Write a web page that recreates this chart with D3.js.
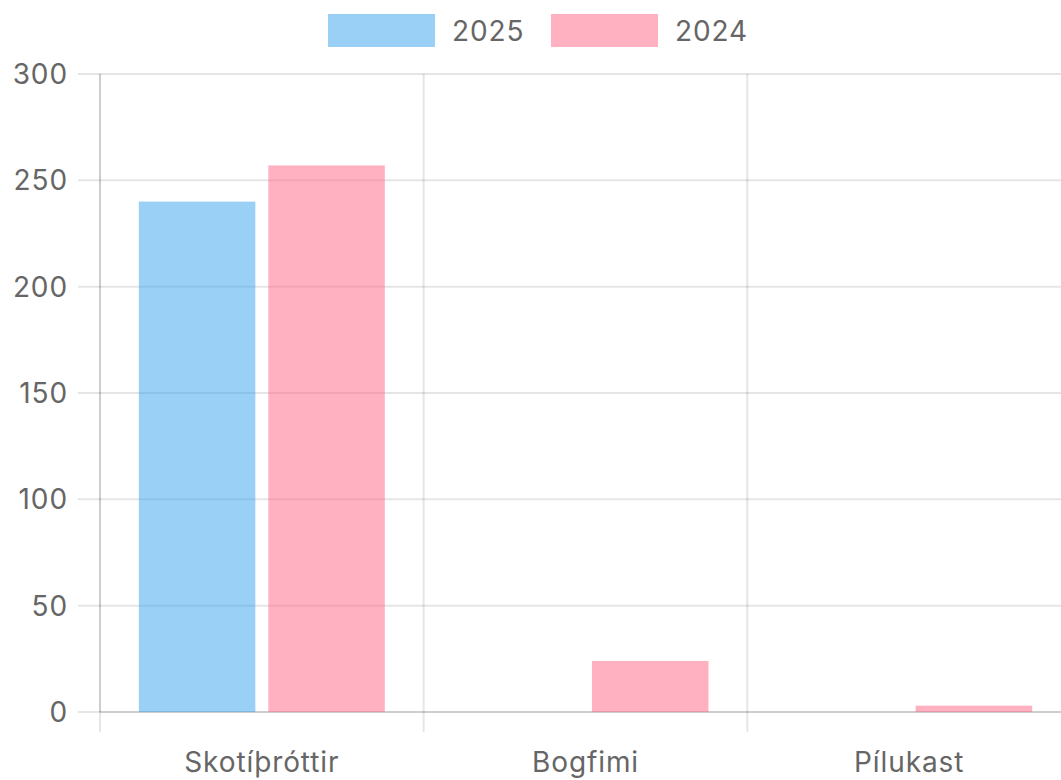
<!DOCTYPE html>
<html>
<head>
<meta charset="utf-8">
<script src="https://cdn.jsdelivr.net/npm/d3@7"></script>
<style>
  html, body { margin: 0; padding: 0; background: #fff; overflow: hidden; }
  svg { display: block; font-family: Inter, "Noto Sans", sans-serif; }
</style>
</head>
<body>
<svg id="chart" width="1061" height="780"></svg>
<script>
// ---------- data ----------
const categories = ["Skotíþróttir", "Bogfimi", "Pílukast"];
const seriesNames = ["2025", "2024"];
const values2025 = [240, 0, 0];
const values2024 = [257, 24, 3];
const yTicks = [0, 50, 100, 150, 200, 250, 300];
const colors = ["rgba(54,162,235,0.5)", "rgba(255,99,132,0.5)"];

const series = [values2025, values2024];

// ---------- layout ----------
const svg = d3.select("#chart");
const margin = { left: 100, top: 74, bottom: 712 };
const plotRight = 1071; // chart runs past the window edge a bit
const gridColor = "rgba(0,0,0,0.1)";
const textColor = "#666";
const fontSize = 28;
const spacing = "0.9px";

const x = d3.scaleBand().domain(categories).range([margin.left, plotRight]).paddingInner(0).paddingOuter(0);
const y = d3.scaleLinear().domain([0, 300]).range([margin.bottom, margin.top]);

// inner band for bars (chart.js style: category 0.8, bar 0.9)
const catW = x.bandwidth();
const groupW = catW * 0.8;
const slotW = groupW / series.length;
const barW = slotW * 0.9;

// ---------- grid ----------
const grid = svg.append("g");
yTicks.forEach((t) => {
  grid.append("line")
    .attr("x1", margin.left - 22).attr("x2", plotRight)
    .attr("y1", y(t)).attr("y2", y(t))
    .attr("stroke", gridColor).attr("stroke-width", 2);
});
categories.forEach((c) => {
  grid.append("line")
    .attr("x1", x(c)).attr("x2", x(c))
    .attr("y1", margin.top).attr("y2", margin.bottom + 20)
    .attr("stroke", gridColor).attr("stroke-width", 2);
});
// axis borders (drawn over the grid, so they read a bit darker)
grid.append("line")
  .attr("x1", margin.left).attr("x2", margin.left)
  .attr("y1", margin.top).attr("y2", margin.bottom)
  .attr("stroke", gridColor).attr("stroke-width", 2);
grid.append("line")
  .attr("x1", margin.left).attr("x2", plotRight)
  .attr("y1", margin.bottom).attr("y2", margin.bottom)
  .attr("stroke", gridColor).attr("stroke-width", 2);

// ---------- bars ----------
series.forEach((vals, si) => {
  svg.append("g")
    .selectAll("rect")
    .data(vals.map((v, i) => ({ cat: categories[i], v })))
    .join("rect")
    .attr("x", (d) => x(d.cat) + (catW - groupW) / 2 + si * slotW + (slotW - barW) / 2)
    .attr("width", barW)
    .attr("y", (d) => y(d.v))
    .attr("height", (d) => y(0) - y(d.v))
    .attr("fill", colors[si]);
});

// ---------- axis labels ----------
svg.append("g")
  .selectAll("text")
  .data(yTicks)
  .join("text")
  .attr("x", 68)
  .attr("y", (d) => y(d))
  .attr("dy", "0.36em")
  .attr("text-anchor", "end")
  .attr("fill", textColor)
  .attr("font-size", fontSize)
  .attr("letter-spacing", spacing)
  .text((d) => d);

svg.append("g")
  .selectAll("text")
  .data(categories)
  .join("text")
  .attr("x", (d) => x(d) + catW / 2)
  .attr("y", 762)
  .attr("dy", "0.36em")
  .attr("text-anchor", "middle")
  .attr("fill", textColor)
  .attr("font-size", fontSize)
  .attr("letter-spacing", spacing)
  .text((d) => d);

// ---------- legend ----------
const legend = svg.append("g");
const legendX = [328, 551];
seriesNames.forEach((name, i) => {
  legend.append("rect")
    .attr("x", legendX[i]).attr("y", 14)
    .attr("width", 107).attr("height", 33)
    .attr("fill", colors[i]);
  legend.append("text")
    .attr("x", legendX[i] + 124).attr("y", 31)
    .attr("dy", "0.36em")
    .attr("fill", textColor)
    .attr("font-size", fontSize)
    .attr("letter-spacing", spacing)
    .text(name);
});
</script>
</body>
</html>
